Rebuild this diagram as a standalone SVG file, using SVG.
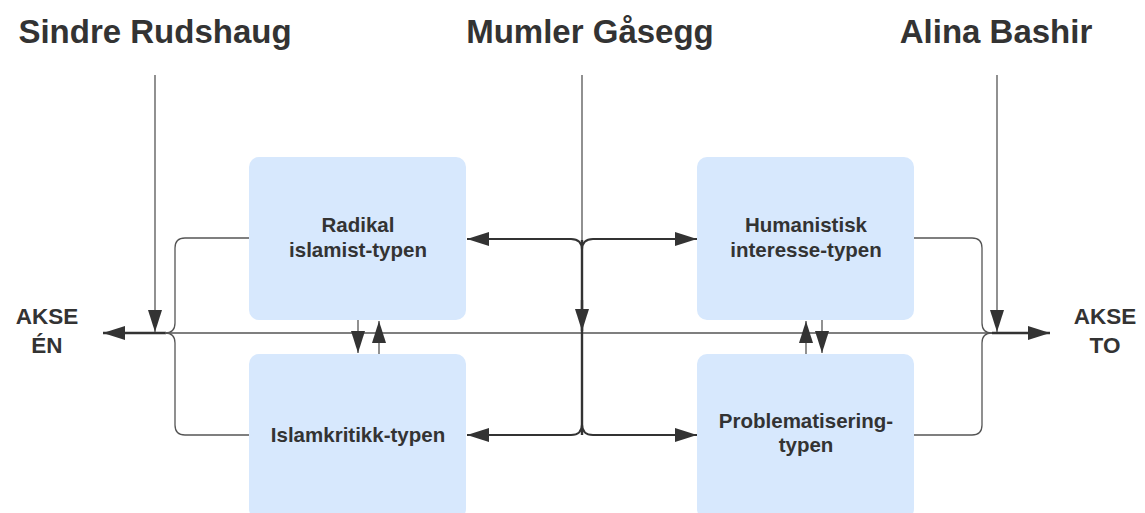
<svg xmlns="http://www.w3.org/2000/svg" width="1145" height="513" viewBox="0 0 1145 513">
<style>
.box{fill:#d7e8fd;stroke:none}
.t{font-family:"Liberation Sans",Arial,sans-serif;font-weight:bold;fill:#333;text-anchor:middle}
.h{font-size:33px}
.b{font-size:20.5px}
.a{font-size:22.5px}
.thin{fill:none;stroke:#555;stroke-width:1.3}
.mid{fill:none;stroke:#333;stroke-width:1.9}
.thick{fill:none;stroke:#333;stroke-width:2.4}
</style>
<defs>
<marker id="ah" markerUnits="userSpaceOnUse" markerWidth="22" markerHeight="14" refX="22" refY="7" orient="auto">
<path d="M0,0 L22,7 L0,14 z" fill="#333"/>
</marker>
</defs>
<rect width="1145" height="513" fill="#fff"/>
<g id="labels">
<text class="t h" x="155" y="43">Sindre Rudshaug</text>
<text class="t h" x="590" y="43">Mumler Gåsegg</text>
<text class="t h" x="996" y="43">Alina Bashir</text>
<text class="t a" x="47" y="324">AKSE</text>
<text class="t a" x="47" y="353">ÉN</text>
<text class="t a" x="1105" y="324">AKSE</text>
<text class="t a" x="1105" y="353">TO</text>
</g>
<g id="node-radikal">
<rect class="box" x="249" y="157" width="217" height="163" rx="10"/>
<text class="t b" x="358" y="232">Radikal</text>
<text class="t b" x="358" y="257">islamist-typen</text>
</g>
<g id="node-islamkritikk">
<rect class="box" x="249" y="354" width="217" height="165" rx="10"/>
<text class="t b" x="358" y="442">Islamkritikk-typen</text>
</g>
<g id="node-humanistisk">
<rect class="box" x="697" y="157" width="217" height="163" rx="10"/>
<text class="t b" x="806" y="232">Humanistisk</text>
<text class="t b" x="806" y="257">interesse-typen</text>
</g>
<g id="node-problematisering">
<rect class="box" x="697" y="354" width="217" height="165" rx="10"/>
<text class="t b" x="806" y="428">Problematisering-</text>
<text class="t b" x="806" y="452">typen</text>
</g>
<g id="connectors">
<path class="thin" d="M165,333 H993"/>
<path class="thick" d="M166,333 H103" marker-end="url(#ah)"/>
<path class="thick" d="M992,333 H1050" marker-end="url(#ah)"/>
<path class="thin" d="M249,238 H185 Q175,238 175,248 V323 Q175,333 165,333"/>
<path class="thin" d="M249,435 H185 Q175,435 175,425 V343 Q175,333 165,333"/>
<path class="thin" d="M914,238 H972 Q982,238 982,248 V323 Q982,333 992,333"/>
<path class="thin" d="M914,435 H972 Q982,435 982,425 V343 Q982,333 992,333"/>
<path class="thin" d="M155,75 V332" marker-end="url(#ah)"/>
<path class="thin" d="M997,75 V332" marker-end="url(#ah)"/>
<path class="thin" d="M582,75 V240"/>
<path class="thick" d="M582,240 V435"/>
<path class="thick" d="M582,300 V331" marker-end="url(#ah)"/>
<path class="mid" d="M582,250 Q582,239 571,239 H467" marker-end="url(#ah)"/>
<path class="mid" d="M582,250 Q582,239 593,239 H697" marker-end="url(#ah)"/>
<path class="mid" d="M582,424 Q582,435 571,435 H467" marker-end="url(#ah)"/>
<path class="mid" d="M582,424 Q582,435 593,435 H697" marker-end="url(#ah)"/>
<path class="thin" d="M358,320 V353" marker-end="url(#ah)"/>
<path class="thin" d="M379,354 V321" marker-end="url(#ah)"/>
<path class="thin" d="M806,354 V321" marker-end="url(#ah)"/>
<path class="thin" d="M822,320 V353" marker-end="url(#ah)"/>
</g>
</svg>
